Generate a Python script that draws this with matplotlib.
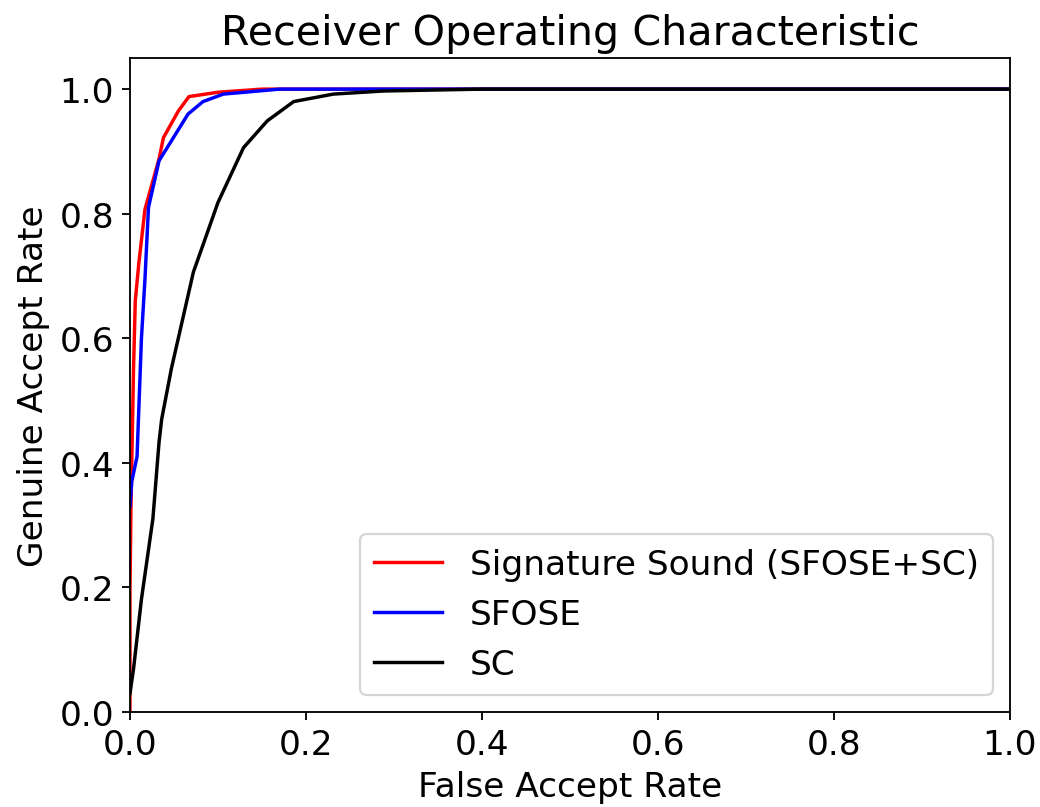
import matplotlib
matplotlib.use("Agg")
import matplotlib.pyplot as plt

# False accept rate / genuine accept rate for each method
fpr_ss = [0.0, 0.0, 0.001, 0.002, 0.004, 0.006, 0.010, 0.017, 0.033, 0.038, 0.055, 0.067, 0.10, 0.15, 0.40, 1.0]
tpr_ss = [0.0, 0.20, 0.32, 0.40, 0.55, 0.66, 0.72, 0.807, 0.888, 0.922, 0.965, 0.988, 0.995, 1.0, 1.0, 1.0]

fpr_sfose = [0.0, 0.002, 0.008, 0.013, 0.017, 0.021, 0.033, 0.066, 0.083, 0.106, 0.17, 0.40, 1.0]
tpr_sfose = [0.33, 0.37, 0.41, 0.60, 0.695, 0.81, 0.885, 0.960, 0.980, 0.992, 1.0, 1.0, 1.0]

fpr_sc = [0.0, 0.004, 0.013, 0.026, 0.033, 0.036, 0.047, 0.072, 0.100, 0.129, 0.156, 0.186, 0.231, 0.288, 0.40, 1.0]
tpr_sc = [0.03, 0.069, 0.181, 0.31, 0.433, 0.47, 0.551, 0.706, 0.818, 0.906, 0.949, 0.980, 0.992, 0.997, 1.0, 1.0]

labels = ["Signature Sound (SFOSE+SC)", "SFOSE", "SC"]

DPI = 165
FS = 15
fig = plt.figure(figsize=(1040 / DPI, 808 / DPI), dpi=DPI)
ax = fig.add_axes([0.125, 0.1176, 0.846, 0.8094])

ax.plot(fpr_ss, tpr_ss, color="red", label=labels[0])
ax.plot(fpr_sfose, tpr_sfose, color="blue", label=labels[1])
ax.plot(fpr_sc, tpr_sc, color="black", label=labels[2])

ax.set_xlim(0, 1.0)
ax.set_ylim(0, 1.05)
ax.set_xticks([0.0, 0.2, 0.4, 0.6, 0.8, 1.0])
ax.set_yticks([0.0, 0.2, 0.4, 0.6, 0.8, 1.0])
ax.tick_params(labelsize=FS)
ax.set_xlabel("False Accept Rate", fontsize=FS)
ax.set_ylabel("Genuine Accept Rate", fontsize=FS)
ax.set_title("Receiver Operating Characteristic", fontsize=FS * 1.2)
ax.legend(loc="lower right", fontsize=FS)

fig.savefig("out.png", dpi=DPI)
